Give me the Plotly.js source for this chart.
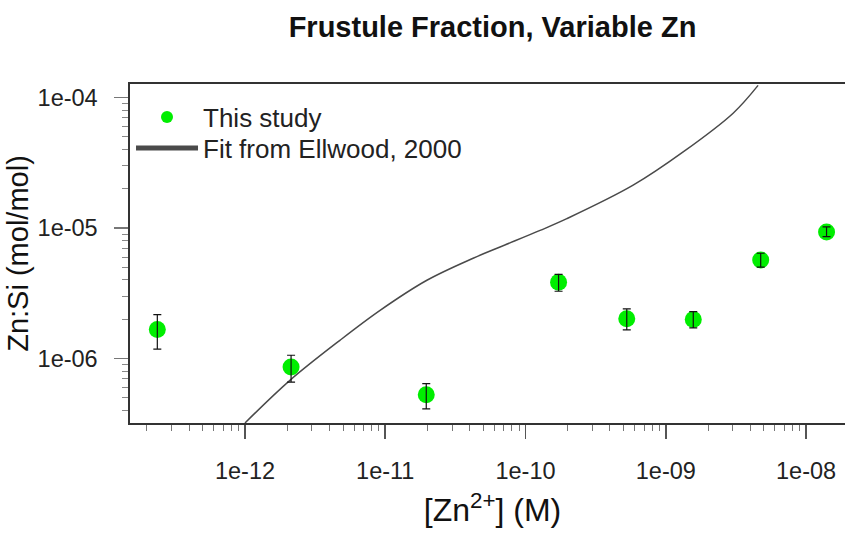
<!DOCTYPE html>
<html>
<head>
<meta charset="utf-8">
<script src="https://cdn.plot.ly/plotly-3.0.1.min.js"></script>
<style>
  html, body { margin: 0; padding: 0; overflow: hidden; background: #fff; }
  #chart { width: 855px; height: 533px; }
</style>
</head>
<body>
<div id="chart"></div>
<script>
// Measured frustule Zn:Si against free Zn2+ concentration
const znConc   = [2.37e-13, 2.13e-12, 1.96e-11, 1.72e-10, 5.27e-10, 1.57e-9, 4.75e-9, 1.40e-8];
const znSi     = [1.67e-6, 8.63e-7, 5.27e-7, 3.85e-6, 2.02e-6, 1.99e-6, 5.70e-6, 9.33e-6];
const znSiHigh = [2.17e-6, 1.06e-6, 6.43e-7, 4.41e-6, 2.40e-6, 2.29e-6, 6.41e-6, 1.02e-5];
const znSiLow  = [1.18e-6, 6.59e-7, 4.12e-7, 3.28e-6, 1.66e-6, 1.72e-6, 5.01e-6, 8.60e-6];

// Fit curve (Ellwood, 2000)
const fitConc = [1.0e-12, 2.09e-12, 4.75e-12, 9.18e-12, 1.98e-11, 4.23e-11, 6.58e-11,
                 1.27e-10, 1.97e-10, 5.85e-10, 1.33e-9, 3.02e-9, 4.55e-9];
const fitZnSi = [3.21e-7, 6.81e-7, 1.38e-6, 2.34e-6, 3.98e-6, 5.87e-6, 7.16e-6,
                 9.59e-6, 1.18e-5, 2.13e-5, 3.83e-5, 7.59e-5, 1.24e-4];

// Axis tick labels
const xTickVals = [1e-12, 1e-11, 1e-10, 1e-9, 1e-8];
const xTickText = ['1e-12', '1e-11', '1e-10', '1e-09', '1e-08'];
const yTickVals = [1e-6, 1e-5, 1e-4];
const yTickText = ['1e-06', '1e-05', '1e-04'];

function minorTicks(fromExp, toExp) {
  const out = [];
  for (let e = fromExp; e <= toExp; e++) {
    for (let k = 2; k <= 9; k++) out.push(k * Math.pow(10, e));
  }
  return out;
}

const green = '#00ee00';
const errPlus  = znSiHigh.map((v, i) => v - znSi[i]);
const errMinus = znSi.map((v, i) => v - znSiLow[i]);

const traces = [
  {
    x: fitConc, y: fitZnSi, type: 'scatter', mode: 'lines',
    name: 'Fit from Ellwood, 2000', legend: 'legend2',
    line: { color: '#4a4a4a', width: 1.5, shape: 'spline', smoothing: 1 },
    hoverinfo: 'skip'
  },
  {
    x: znConc, y: znSi, type: 'scatter', mode: 'markers',
    name: 'This study', legend: 'legend',
    marker: { color: green, size: 17 }
  },
  {
    // error bars drawn above the markers
    x: znConc, y: znSi, type: 'scatter', mode: 'markers',
    showlegend: false, hoverinfo: 'skip',
    marker: { color: green, size: 17, opacity: 0 },
    error_y: {
      type: 'data', symmetric: false, array: errPlus, arrayminus: errMinus,
      color: '#111', thickness: 1.2, width: 4
    }
  }
];

const axisFont = { family: 'Liberation Sans, Arial, sans-serif', size: 23.5, color: '#222' };
const legendBase = {
  x: 0.0014, xanchor: 'left', yanchor: 'middle',
  bgcolor: 'rgba(0,0,0,0)', borderwidth: 0,
  font: { size: 26, color: '#222' },
  itemsizing: 'constant', itemwidth: 62
};

const layout = {
  width: 855, height: 533,
  margin: { l: 130, r: 0, t: 84, b: 110 },
  paper_bgcolor: '#fff', plot_bgcolor: '#fff',
  font: { family: 'Liberation Sans, Arial, sans-serif', color: '#111' },
  title: {
    text: '<b>Frustule Fraction, Variable Zn</b>',
    font: { size: 29, color: '#111' },
    x: 0.5, xref: 'paper', y: 1 - 27 / 533, yref: 'container', yanchor: 'middle'
  },
  showlegend: true,
  legend: Object.assign({}, legendBase, { y: 0.9026 }),
  legend2: Object.assign({}, legendBase, { y: 0.811 }),
  xaxis: {
    type: 'log', range: [-12.82, -7.651],
    showgrid: false, zeroline: false,
    showline: true, linecolor: '#333', linewidth: 1.6, mirror: true,
    tickmode: 'array', tickvals: xTickVals, ticktext: xTickText,
    ticks: 'outside', ticklen: 14, tickwidth: 1.6, tickcolor: '#555',
    ticklabelstandoff: 12,
    tickfont: axisFont,
    minor: { tickmode: 'array', tickvals: minorTicks(-13, -8), ticks: 'outside',
             ticklen: 6, tickwidth: 1, tickcolor: '#777' },
    title: { text: '[Zn<sup>2+</sup>] (M)', font: { size: 32, color: '#111' }, standoff: 16 }
  },
  yaxis: {
    type: 'log', range: [-6.494, -3.896],
    showgrid: false, zeroline: false,
    showline: true, linecolor: '#333', linewidth: 1.6, mirror: false,
    tickmode: 'array', tickvals: yTickVals, ticktext: yTickText,
    ticks: 'outside', ticklen: 14, tickwidth: 1.6, tickcolor: '#777',
    ticklabelstandoff: 12,
    tickfont: axisFont,
    minor: { tickmode: 'array', tickvals: minorTicks(-7, -4), ticks: 'outside',
             ticklen: 6, tickwidth: 1, tickcolor: '#888' },
    title: { text: 'Zn:Si (mol/mol)', font: { size: 29, color: '#111' }, standoff: 0 }
  }
};

Plotly.newPlot('chart', traces, layout, { displayModeBar: false, staticPlot: true });
</script>
</body>
</html>
